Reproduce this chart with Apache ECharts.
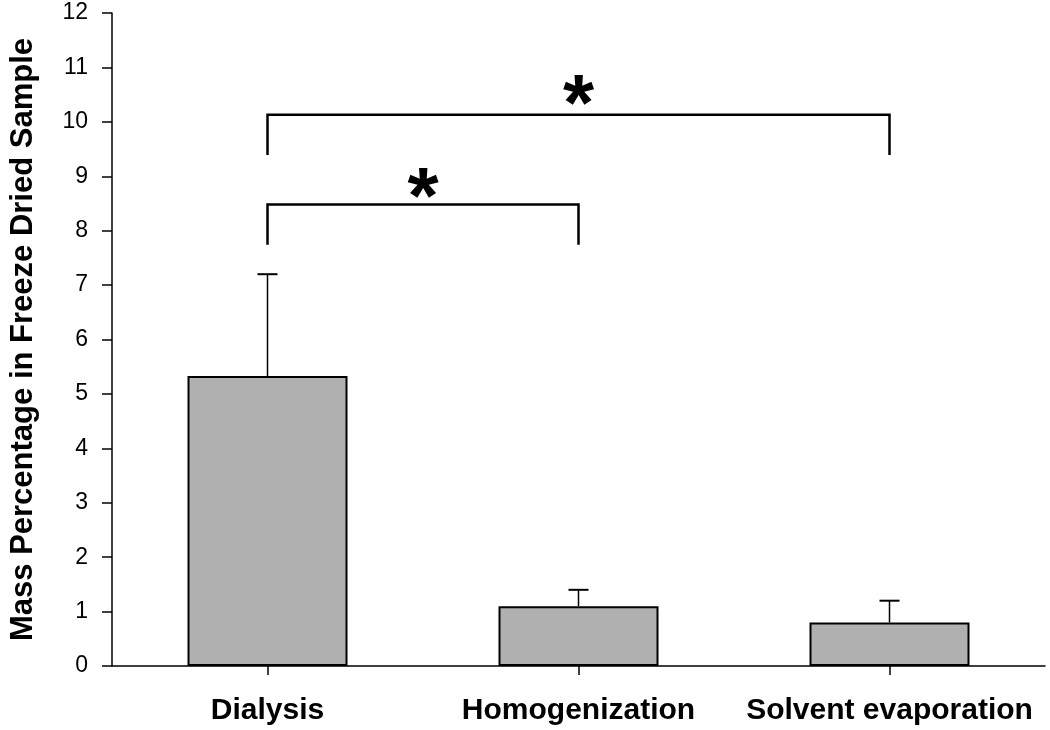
<!DOCTYPE html>
<html><head><meta charset="utf-8">
<script src="https://cdn.jsdelivr.net/npm/echarts@6/dist/echarts.min.js"></script>
<style>html,body{margin:0;padding:0;background:#fff}#c{width:1050px;height:730px}</style>
</head><body><div id="c"></div>
<script>
var categories = ['Dialysis', 'Homogenization', 'Solvent evaporation'];
var means = [5.33, 1.1, 0.8];
var upperErr = [7.2, 1.4, 1.2];
var yTicks = [0,1,2,3,4,5,6,7,8,9,10,11,12];
// brackets: [fromIdx, toIdx, barLevel, footLevel, starLevel]
var brackets = [
  [0, 2, 10.13, 9.39, 10.26],
  [0, 1, 8.48, 7.74, 8.55]
];

var chart = echarts.init(document.getElementById('c'));
var font = '"Liberation Sans", Arial, sans-serif';
chart.setOption({
  animation: false,
  grid: {left: 108, right: 5, top: 13, bottom: 64},
  xAxis: {
    type: 'category', data: categories,
    axisLine: {show: true, lineStyle: {color: '#000', width: 1.5}},
    axisTick: {show: true, alignWithLabel: true, length: 9, lineStyle: {color: '#000', width: 1.5}},
    axisLabel: {interval: 0, hideOverlap: false, color: '#000', fontSize: 30, fontWeight: 'bold', fontFamily: font, margin: 30}
  },
  yAxis: {
    type: 'value', min: 0, max: 12, interval: 1,
    name: 'Mass Percentage in Freeze Dried Sample', nameLocation: 'middle', nameGap: 73,
    nameTextStyle: {color: '#000', fontSize: 31, fontWeight: 'bold', fontFamily: font},
    splitLine: {show: false},
    axisLine: {show: true, onZero: false, lineStyle: {color: '#000', width: 1.5}},
    axisTick: {show: true, length: 10, lineStyle: {color: '#000', width: 1.5}},
    axisLabel: {color: '#000', fontSize: 23, fontFamily: font, margin: 24,
      formatter: function(v){ return yTicks.indexOf(v) >= 0 ? String(v) : ''; }}
  },
  series: [
    {
      type: 'bar', barWidth: 160,
      data: means,
      itemStyle: {color: '#b0b0b0', borderColor: '#000', borderWidth: 2},
      z: 2
    },
    {
      type: 'custom',
      data: means.map(function(m, i){ return [i, m, upperErr[i]]; }),
      renderItem: function(params, api){
        var b = api.coord([api.value(0), api.value(1)]);
        var t = api.coord([api.value(0), api.value(2)]);
        return {type: 'group', children: [
          {type: 'line', shape: {x1: b[0], y1: b[1], x2: t[0], y2: t[1]}, style: {stroke: '#000', lineWidth: 1.5}},
          {type: 'line', shape: {x1: t[0]-10, y1: t[1], x2: t[0]+10, y2: t[1]}, style: {stroke: '#000', lineWidth: 2}}
        ]};
      },
      z: 3
    },
    {
      type: 'custom',
      data: brackets,
      renderItem: function(params, api){
        var a = api.value(0), c = api.value(1);
        var pTopL = api.coord([a, api.value(2)]);
        var pTopR = api.coord([c, api.value(2)]);
        var pFootL = api.coord([a, api.value(3)]);
        var pFootR = api.coord([c, api.value(3)]);
        var mid = (pTopL[0] + pTopR[0]) / 2;
        var sy = api.coord([a, api.value(4)])[1];
        return {type: 'group', children: [
          {type: 'polyline', shape: {points: [pFootL, pTopL, pTopR, pFootR]}, style: {stroke: '#000', lineWidth: 2.5, fill: null}},
          {type: 'text', x: mid, y: sy, style: {text: '*', font: 'bold 80px ' + font, fill: '#000', align: 'center', verticalAlign: 'middle'}}
        ]};
      },
      z: 4
    }
  ]
});
</script></body></html>
